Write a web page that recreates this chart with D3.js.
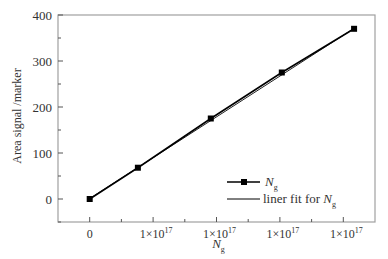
<!DOCTYPE html>
<html>
<head>
<meta charset="utf-8">
<script src="https://cdn.jsdelivr.net/npm/d3@7"></script>
<style>
  body { margin: 0; background: #fff; }
  svg { display: block; font-family: "Liberation Serif", "Times New Roman", serif; }
</style>
</head>
<body>
<svg id="chart"></svg>
<script>
// data (x in units of 1e17 on the axis)
const ngValues = [0, 0.76, 1.91, 3.03, 4.17];
const areaValues = [0, 68, 175, 275, 370];
// fitted line end points
const fitX = [0, 4.17];
const fitY = [1, 371];
const xTicks = [0, 1, 2, 3, 4];
const xTickLabels = ['0', '1×10', '1×10', '1×10', '1×10'];
const xTickSup = ['', '17', '17', '17', '17'];
const yTicks = [0, 100, 200, 300, 400];

const svg = d3.select('#chart');
svg.attr('width', 388).attr('height', 259);
const width = +svg.attr('width');
const height = +svg.attr('height');

const margin = {top: 15, right: 13, bottom: 37, left: 58};
const innerWidth = width - margin.left - margin.right;
const innerHeight = height - margin.top - margin.bottom;

const xScale = d3.scaleLinear().domain([-0.5, 4.5]).range([0, innerWidth]);
const yScale = d3.scaleLinear().domain([-50, 400]).range([innerHeight, 0]);

const g = svg.append('g')
  .attr('transform', 'translate(' + margin.left + ',' + margin.top + ')');

// frame
g.append('rect')
  .attr('width', innerWidth).attr('height', innerHeight)
  .attr('fill', 'none').attr('stroke', '#a0a0a0').attr('stroke-width', 1.2);

// x axis, ticks pointing inward
const xAxis = g.append('g').attr('transform', 'translate(0,' + innerHeight + ')');
xAxis.selectAll('.major').data(xTicks).enter().append('line')
  .attr('x1', d => xScale(d)).attr('x2', d => xScale(d))
  .attr('y1', 0).attr('y2', -5).attr('stroke', '#555');
xAxis.selectAll('.minor').data(xTicks.slice(0, -1).map(d => d + 0.5)).enter().append('line')
  .attr('x1', d => xScale(d)).attr('x2', d => xScale(d))
  .attr('y1', 0).attr('y2', -3).attr('stroke', '#555');
const xl = xAxis.selectAll('.lab').data(xTicks).enter().append('text')
  .attr('x', (d, i) => xScale(d) + (i ? 3 : 0)).attr('y', 16)
  .attr('text-anchor', 'middle').attr('font-size', 12).attr('fill', '#333');
xl.append('tspan').text((d, i) => xTickLabels[i]);
xl.append('tspan').attr('font-size', 8).attr('dy', -5).text((d, i) => xTickSup[i]);

// y axis, ticks pointing inward
const yAxis = g.append('g');
yAxis.selectAll('.major').data(yTicks).enter().append('line')
  .attr('y1', d => yScale(d)).attr('y2', d => yScale(d))
  .attr('x1', 0).attr('x2', 5).attr('stroke', '#555');
yAxis.selectAll('.minor').data(yTicks.map(d => d - 50)).enter().append('line')
  .attr('y1', d => yScale(d)).attr('y2', d => yScale(d))
  .attr('x1', 0).attr('x2', 3).attr('stroke', '#555');
yAxis.selectAll('.lab').data(yTicks).enter().append('text')
  .attr('x', -6).attr('y', d => yScale(d)).attr('dy', '0.35em')
  .attr('text-anchor', 'end').attr('font-size', 13).attr('fill', '#333')
  .text(d => d);

// axis titles
svg.append('text')
  .attr('transform', 'translate(21,116) rotate(-90)')
  .attr('text-anchor', 'middle').attr('font-size', 12).attr('fill', '#333')
  .text('Area signal /marker');
const xt = svg.append('text')
  .attr('x', margin.left + xScale(2) + 2).attr('y', 248)
  .attr('text-anchor', 'middle').attr('font-size', 13).attr('fill', '#333');
xt.append('tspan').attr('font-style', 'italic').text('N');
xt.append('tspan').attr('font-size', 8).attr('dy', 4).text('g');

// fit line
const line = d3.line().x(d => xScale(d[0])).y(d => yScale(d[1]));
g.append('path').datum(d3.zip(fitX, fitY))
  .attr('d', line).attr('fill', 'none').attr('stroke', '#222').attr('stroke-width', 1);

// data line + markers
const pts = d3.zip(ngValues, areaValues);
g.append('path').datum(pts)
  .attr('d', line).attr('fill', 'none').attr('stroke', '#000').attr('stroke-width', 1.6);
g.selectAll('.pt').data(pts).enter().append('rect')
  .attr('x', d => xScale(d[0]) - 3).attr('y', d => yScale(d[1]) - 3)
  .attr('width', 6).attr('height', 6).attr('fill', '#000');

// legend
const leg = svg.append('g').attr('transform', 'translate(227,182)');
leg.append('line').attr('x1', 0).attr('x2', 33).attr('y1', 0).attr('y2', 0)
  .attr('stroke', '#000').attr('stroke-width', 1.4);
leg.append('rect').attr('x', 14).attr('y', -3).attr('width', 6).attr('height', 6).attr('fill', '#000');
const t1 = leg.append('text').attr('x', 38).attr('y', 4).attr('font-size', 13).attr('fill', '#333');
t1.append('tspan').attr('font-style', 'italic').text('N');
t1.append('tspan').attr('font-size', 8).attr('dy', 4).text('g');
leg.append('line').attr('x1', 0).attr('x2', 33).attr('y1', 17).attr('y2', 17)
  .attr('stroke', '#000').attr('stroke-width', 1);
const t2 = leg.append('text').attr('x', 36).attr('y', 21).attr('font-size', 13).attr('fill', '#333');
t2.append('tspan').text('liner fit for ');
t2.append('tspan').attr('font-style', 'italic').text('N');
t2.append('tspan').attr('font-size', 8).attr('dy', 4).text('g');
</script>
</body>
</html>
